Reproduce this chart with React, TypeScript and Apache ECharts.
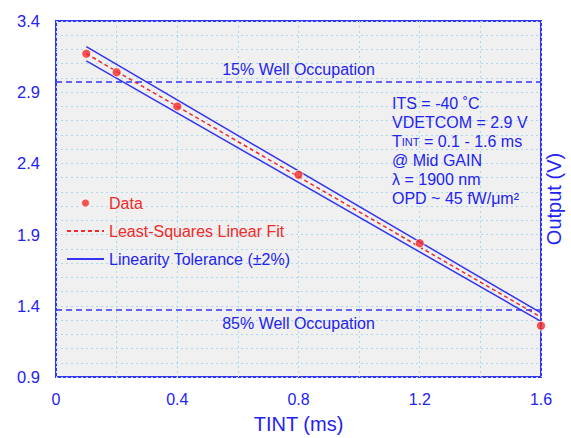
import React, { useEffect, useRef } from "react";
import * as echarts from "echarts";

// ---- data ----
const tintValues = [0.1, 0.2, 0.4, 0.8, 1.2, 1.6];
const outputValues = [3.17, 3.04, 2.8, 2.32, 1.84, 1.26];

const fitX = [0.1, 1.6];
const fitY = [3.17, 1.32];
const toleranceUpperY = [3.22, 1.35];
const toleranceLowerY = [3.12, 1.29];

const wellLabels = ["15% Well Occupation", "85% Well Occupation"];
const wellValues = [2.97, 1.37];

const xTickLabels = ["0", "0.4", "0.8", "1.2", "1.6"];
const yTickLabels = ["0.9", "1.4", "1.9", "2.4", "2.9", "3.4"];

const seriesNames = ["Data", "Least-Squares Linear Fit", "Linearity Tolerance (±2%)"];

const annotationLines = [
  "ITS = -40 ˚C",
  "VDETCOM = 2.9 V",
  "{t|T}{s|INT} = 0.1 - 1.6 ms",
  "@ Mid GAIN",
  "λ = 1900 nm",
  "OPD ~ 45 fW/μm²",
];

const BLUE = "#3434f2";
const TEXT_BLUE = "#2323f2";
const RED = "#f22a2a";
const GRID = "#a9d9ee";
const FONT = "'Liberation Sans', Arial, Helvetica, sans-serif";

export default function App() {
  const ref = useRef<HTMLDivElement>(null);

  useEffect(() => {
    if (!ref.current) return;
    const chart = echarts.init(ref.current, undefined, { renderer: "svg" });

    const pairs = (xs: number[], ys: number[]) => xs.map((x, i) => [x, ys[i]]);

    const option: any = {
      animation: false,
      backgroundColor: "#ffffff",
      textStyle: { fontFamily: FONT },
      grid: {
        left: 56,
        top: 21,
        right: 30,
        bottom: 61,
        outerBoundsMode: "none",
        containLabel: false,
        show: true,
        backgroundColor: "#f0f0f0",
        borderColor: BLUE,
        borderWidth: 2,
      },
      legend: {
        orient: "vertical",
        left: 66,
        top: 195,
        padding: 0,
        itemWidth: 37,
        itemHeight: 9,
        itemGap: 12,
        selectedMode: false,
        textStyle: { fontSize: 16, fontFamily: FONT },
        data: [
          { name: seriesNames[0], textStyle: { color: RED } },
          { name: seriesNames[1], textStyle: { color: RED }, itemStyle: { opacity: 0 } },
          { name: seriesNames[2], textStyle: { color: TEXT_BLUE }, itemStyle: { opacity: 0 } },
        ],
      },
      xAxis: {
        type: "value",
        min: 0,
        max: 1.6,
        interval: 0.2,
        name: "TINT (ms)",
        nameLocation: "middle",
        nameGap: 37,
        nameTextStyle: { fontSize: 20, color: TEXT_BLUE, fontFamily: FONT },
        axisLine: { show: false },
        axisTick: { show: false },
        axisLabel: {
          color: TEXT_BLUE,
          fontSize: 16,
          fontFamily: FONT,
          margin: 14,
          interval: 0,
          showMinLabel: true,
          showMaxLabel: true,
          formatter: (v: number) => {
            const s = Math.abs(v) < 1e-9 ? "0" : v.toFixed(1);
            return xTickLabels.includes(s) ? s : "";
          },
        },
        splitLine: { show: true, lineStyle: { color: GRID, type: [2, 3], width: 1 } },
      },
      yAxis: [
        {
          type: "value",
          min: 0.9,
          max: 3.4,
          interval: 0.1,
          position: "left",
          axisLine: { show: false },
          axisTick: { show: false },
          axisLabel: {
            color: TEXT_BLUE,
            fontSize: 16.5,
            fontFamily: FONT,
            margin: 16,
            interval: 0,
            showMinLabel: true,
            showMaxLabel: true,
            formatter: (v: number) => {
              const s = v.toFixed(1);
              return yTickLabels.includes(s) ? s : "";
            },
          },
          splitLine: { show: true, lineStyle: { color: GRID, type: [2, 3], width: 1 } },
        },
        {
          type: "value",
          min: 0.9,
          max: 3.4,
          position: "right",
          name: "Output (V)",
          nameLocation: "middle",
          nameRotate: 90,
          nameGap: 3,
          nameTextStyle: { fontSize: 20, color: TEXT_BLUE, fontFamily: FONT },
          axisLine: { show: false },
          axisTick: { show: false },
          axisLabel: { show: false },
          splitLine: { show: false },
        },
      ],
      series: [
        {
          name: "wells",
          type: "line",
          data: [],
          silent: true,
          markLine: {
            silent: true,
            symbol: ["none", "none"],
            lineStyle: { color: BLUE, type: [6, 4], width: 1.5 },
            label: {
              show: true,
              formatter: "{b}",
              color: TEXT_BLUE,
              fontSize: 16,
              fontFamily: FONT,
              distance: 5,
            },
            data: wellValues.map((v, i) => ({
              yAxis: v,
              name: wellLabels[i],
              label: { position: i === 0 ? "insideMiddleTop" : "insideMiddleBottom" },
            })),
          },
        },
        {
          name: seriesNames[2],
          type: "line",
          data: pairs(fitX, toleranceUpperY),
          symbol: "none",
          color: BLUE,
          lineStyle: { color: BLUE, width: 1.5 },
          z: 3,
        },
        {
          name: seriesNames[2],
          type: "line",
          data: pairs(fitX, toleranceLowerY),
          symbol: "none",
          color: BLUE,
          lineStyle: { color: BLUE, width: 1.5 },
          z: 3,
        },
        {
          name: seriesNames[1],
          type: "line",
          data: pairs(fitX, fitY),
          symbol: "none",
          color: RED,
          lineStyle: { color: RED, width: 1.5, type: [4, 3] },
          z: 4,
        },
        {
          name: seriesNames[0],
          type: "scatter",
          data: pairs(tintValues, outputValues),
          symbol: "circle",
          symbolSize: 9,
          color: RED,
          itemStyle: { color: RED, borderColor: "#ffffff", borderWidth: 1 },
          z: 5,
        },
      ],
      graphic: [
        {
          type: "text",
          left: 392,
          top: 94,
          z: 10,
          style: {
            text: annotationLines.join("\n"),
            fill: TEXT_BLUE,
            fontSize: 16,
            fontFamily: FONT,
            lineHeight: 19,
            rich: {
              t: { fontSize: 16, fontFamily: FONT, fill: TEXT_BLUE, lineHeight: 19 },
              s: { fontSize: 11, fontFamily: FONT, fill: TEXT_BLUE, lineHeight: 19 },
            },
          },
        },
      ],
    };

    chart.setOption(option);
    return () => chart.dispose();
  }, []);

  return (
    <div
      ref={ref}
      style={{ position: "fixed", left: 0, top: 0, width: 571, height: 438 }}
    />
  );
}
